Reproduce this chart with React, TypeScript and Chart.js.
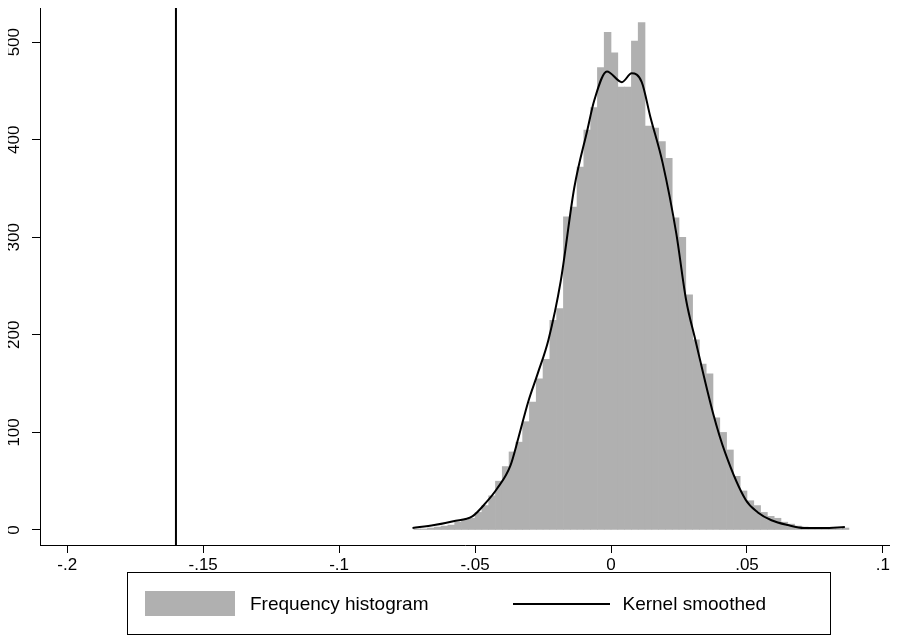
import { useEffect, useRef } from "react"
import { Chart, registerables } from "chart.js"

Chart.register(...registerables)

const binWidth = 0.0025
// bin index k covers [k*0.0025, (k+1)*0.0025]
const binStart = -29
const binCounts = [
  1, 1, 2, 3, 4, 5, 8, 10, 12, 18, 25, 35, 50, 65, 80, 90, 111, 131, 155, 175, 215, 227,
  321, 331, 372, 410, 433, 474, 510, 489, 454, 454, 501, 520, 414, 412, 398, 381, 320, 300,
  241, 195, 170, 160, 115, 100, 82, 55, 40, 30, 25, 18, 14, 12, 8, 6, 4, 3, 2, 2, 1, 1, 1, 2,
]
const kernelX = [
  -0.073, -0.065, -0.058, -0.051, -0.046, -0.042, -0.037, -0.034, -0.0305, -0.027, -0.023,
  -0.0185, -0.0135, -0.0087, -0.0062, -0.0015, 0.004, 0.0076, 0.0113, 0.0145, 0.019, 0.024,
  0.0276, 0.031, 0.0375, 0.042, 0.0495, 0.054, 0.059, 0.065, 0.071, 0.078, 0.086,
]
const kernelY = [
  2, 5, 9, 14, 28, 42, 66, 95, 131, 160, 195, 255, 351, 410, 440, 470, 459, 468, 459, 423, 376,
  304, 236, 195, 120, 79, 31, 18, 10, 5, 2, 2, 3,
]
const markerX = -0.16
const xTicks = [-0.2, -0.15, -0.1, -0.05, 0, 0.05, 0.1]
const yTicks = [0, 100, 200, 300, 400, 500]

const fmt = (v: number) => {
  const s = String(Math.round(v * 100) / 100)
  return s.replace(/^(-?)0\./, "$1.")
}

const tickLabels = {
  id: "tickLabels",
  afterDraw(chart: any) {
    const { ctx } = chart
    const { x, y } = chart.scales
    const area = chart.chartArea
    ctx.save()
    ctx.fillStyle = "#000"
    ctx.font = "17px 'Liberation Sans', Arial, sans-serif"
    ctx.textAlign = "center"
    ctx.textBaseline = "middle"
    yTicks.forEach((t) => {
      ctx.save()
      ctx.translate(14, y.getPixelForValue(t))
      ctx.rotate(-Math.PI / 2)
      ctx.fillText(String(t), 0, 0)
      ctx.restore()
    })
    ctx.textBaseline = "top"
    xTicks.forEach((t) => {
      ctx.fillText(fmt(t), x.getPixelForValue(t), area.bottom + 12)
    })
    ctx.restore()
  },
}

export default function App() {
  const canvasRef = useRef<HTMLCanvasElement>(null)
  const chartRef = useRef<Chart | null>(null)

  useEffect(() => {
    if (!canvasRef.current) return
    if (chartRef.current) chartRef.current.destroy()
    const bars = binCounts.map((c, i) => ({ x: (binStart + i + 0.5) * binWidth, y: c }))
    const kernel = kernelX.map((x, i) => ({ x, y: kernelY[i] }))
    chartRef.current = new Chart(canvasRef.current, {
      type: "bar",
      data: {
        datasets: [
          {
            type: "line",
            data: [
              { x: markerX, y: -20 },
              { x: markerX, y: 540 },
            ],
            borderColor: "#000",
            borderWidth: 2,
            pointRadius: 0,
            order: 0,
          },
          {
            type: "line",
            data: kernel,
            borderColor: "#000",
            borderWidth: 2,
            pointRadius: 0,
            cubicInterpolationMode: "monotone",
            order: 1,
          },
          {
            type: "bar",
            data: bars,
            backgroundColor: "#b0b0b0",
            barPercentage: 1,
            categoryPercentage: 1,
            order: 2,
          } as any,
        ],
      },
      options: {
        animation: false,
        responsive: false,
        devicePixelRatio: 1,
        layout: { padding: { top: 8, right: 0, left: 0, bottom: 0 } },
        plugins: { legend: { display: false }, tooltip: { enabled: false } },
        scales: {
          x: {
            type: "linear",
            min: -0.21,
            max: 0.1026,
            offset: false,
            afterBuildTicks: (s: any) => {
              s.ticks = xTicks.map((v) => ({ value: v }))
            },
            afterFit: (s: any) => {
              s.height = 30
            },
            ticks: { display: true, callback: () => "", padding: 0, maxRotation: 0, autoSkip: false },
            grid: { display: true, drawOnChartArea: false, drawTicks: true, offset: false, color: "#000", tickLength: 8, tickWidth: 1 },
            border: { display: true, color: "#000", width: 1 },
          },
          y: {
            min: -15.4,
            max: 535,
            afterBuildTicks: (s: any) => {
              s.ticks = yTicks.map((v) => ({ value: v }))
            },
            afterFit: (s: any) => {
              s.width = 40
            },
            ticks: { display: true, callback: () => "", padding: 0, autoSkip: false },
            grid: { display: true, drawOnChartArea: false, drawTicks: true, color: "#000", tickLength: 8, tickWidth: 1 },
            border: { display: true, color: "#000", width: 1 },
          },
        },
      },
      plugins: [tickLabels],
    } as any)
    return () => {
      chartRef.current?.destroy()
      chartRef.current = null
    }
  }, [])

  return (
    <div style={{ position: "relative", width: 890, height: 644, margin: -8, background: "#fff", overflow: "hidden" }}>
      <canvas ref={canvasRef} width={890} height={575} style={{ position: "absolute", left: 0, top: 0, width: 890, height: 575 }} />
      <div
        style={{
          position: "absolute",
          left: 127,
          top: 572,
          width: 702,
          height: 61,
          border: "1px solid #000",
          display: "flex",
          alignItems: "center",
          fontFamily: "'Liberation Sans', Arial, sans-serif",
          fontSize: 19,
          color: "#000",
        }}
      >
        <div style={{ width: 90, height: 25, background: "#b0b0b0", marginLeft: 17 }} />
        <span style={{ marginLeft: 15 }}>Frequency histogram</span>
        <div style={{ width: 97, height: 2, background: "#000", marginLeft: 85 }} />
        <span style={{ marginLeft: 12 }}>Kernel smoothed</span>
      </div>
    </div>
  )
}
